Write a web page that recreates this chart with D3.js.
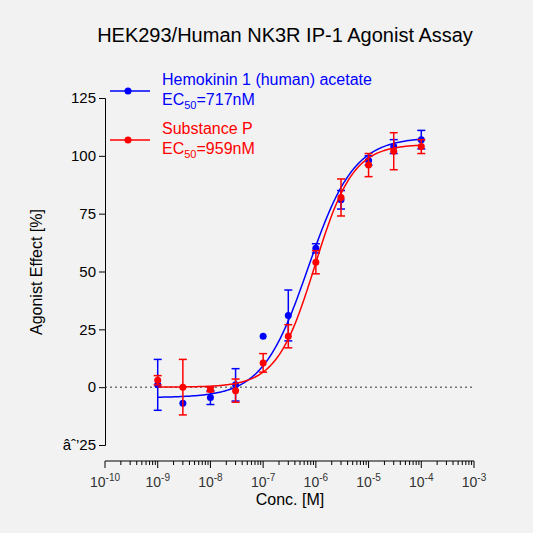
<!DOCTYPE html><html><head><script src="https://cdn.jsdelivr.net/npm/d3@7"></script>
<style>body{margin:0;background:#f2f2f2}svg{font-family:Arial,"Liberation Sans",sans-serif}</style></head><body><svg id="c" width="533" height="533"></svg><script>
const conc=[1e-9,3e-9,1e-8,3e-8,1e-7,3e-7,1e-6,3e-6,1e-5,3e-5,1e-4];
const hkMean=[1,-7,-4.5,1,22,31,60,81,98,104,107];
const hkErr=[11,0,3,7,0,11,2,4,2,3,4];
const spMean=[3,0,-1,-1.5,10.5,22,54,82,96,102,104];
const spErr=[2,12,1,5,4,5,5,8,5,8,3];
const hkFit={bottom:-4.5,top:108,ec50:717e-9,hill:1.0};
const spFit={bottom:0,top:105,ec50:959e-9,hill:1.2};
const yTicks=[-25,0,25,50,75,100,125];
const xExp=[-10,-9,-8,-7,-6,-5,-4,-3];
const svg=d3.select("#c");
const x=d3.scaleLog().domain([1e-10,1e-3]).range([105,474]);
const y=d3.scaleLinear().domain([-25,125]).range([445,98]);
svg.append("rect").attr("width",533).attr("height",533).attr("fill","#f2f2f2");
const ya=svg.append("g").attr("transform","translate(105,0)").call(d3.axisLeft(y).tickValues(yTicks).tickSize(6));
ya.selectAll("text").attr("font-size",15).attr("fill","#000").attr("font-family","Arial,'Liberation Sans',sans-serif");
ya.select(".domain").attr("stroke","#000");
const xa=svg.append("g").attr("transform","translate(0,461)");
xa.append("line").attr("x1",105).attr("x2",474).attr("stroke","#000");
for(let e=-10;e<-3;e++)for(let m=1;m<10;m++){const v=m*Math.pow(10,e);xa.append("line").attr("x1",x(v)).attr("x2",x(v)).attr("y2",m==1?7:4).attr("stroke","#000");}
xa.append("line").attr("x1",x(1e-3)).attr("x2",x(1e-3)).attr("y2",7).attr("stroke","#000");
xExp.forEach(e=>{const t=xa.append("text").attr("x",x(Math.pow(10,e))).attr("y",26).attr("text-anchor","middle").attr("font-size",14).attr("fill","#333");
t.append("tspan").text("10");t.append("tspan").attr("dy",-6).attr("font-size",10).text(e);});
svg.append("text").attr("x",290).attr("y",505).attr("text-anchor","middle").attr("font-size",16).text("Conc. [M]");
svg.append("text").attr("transform","translate(42,272) rotate(-90)").attr("text-anchor","middle").attr("font-size",16).text("Agonist Effect [%]");
svg.append("text").attr("x",285).attr("y",42).attr("text-anchor","middle").attr("font-size",20).text("HEK293/Human NK3R IP-1 Agonist Assay");
// zero line
svg.append("line").attr("x1",105).attr("x2",474).attr("y1",y(0)).attr("y2",y(0)).attr("stroke","#333").attr("stroke-dasharray","2,3");
function hill(p,c){return p.bottom+(p.top-p.bottom)/(1+Math.pow(p.ec50/c,p.hill));}
function series(mean,err,fit,col){
  const xs=d3.range(0,201).map(i=>Math.pow(10,-9+5*i/200));
  svg.append("path").attr("d",d3.line().x(c=>x(c)).y(c=>y(hill(fit,c)))(xs)).attr("fill","none").attr("stroke",col).attr("stroke-width",1.5);
  conc.forEach((c,i)=>{
    if(err[i]>0){const g=svg.append("g").attr("stroke",col).attr("stroke-width",1.5);
      g.append("line").attr("x1",x(c)).attr("x2",x(c)).attr("y1",y(mean[i]-err[i])).attr("y2",y(mean[i]+err[i]));
      [mean[i]-err[i],mean[i]+err[i]].forEach(v=>g.append("line").attr("x1",x(c)-4).attr("x2",x(c)+4).attr("y1",y(v)).attr("y2",y(v)));}
    svg.append("circle").attr("cx",x(c)).attr("cy",y(mean[i])).attr("r",3.5).attr("fill",col);
  });
}
series(hkMean,hkErr,hkFit,"#0000ff");
series(spMean,spErr,spFit,"#ff0000");
function legend(yy,col,l1,ec){
  svg.append("line").attr("x1",110).attr("x2",150).attr("y1",yy).attr("y2",yy).attr("stroke",col).attr("stroke-width",1.5);
  svg.append("circle").attr("cx",128).attr("cy",yy).attr("r",3.5).attr("fill",col);
  svg.append("text").attr("x",162).attr("y",yy-6).attr("font-size",16).attr("fill",col).text(l1);
  const t=svg.append("text").attr("x",162).attr("y",yy+14).attr("font-size",16).attr("fill",col);
  t.append("tspan").text("EC");t.append("tspan").attr("dy",4).attr("font-size",11).text("50");t.append("tspan").attr("dy",-4).text("="+ec);
}
legend(91,"#0000ff","Hemokinin 1 (human) acetate","717nM");
legend(140,"#ff0000","Substance P","959nM");
</script></body></html>
